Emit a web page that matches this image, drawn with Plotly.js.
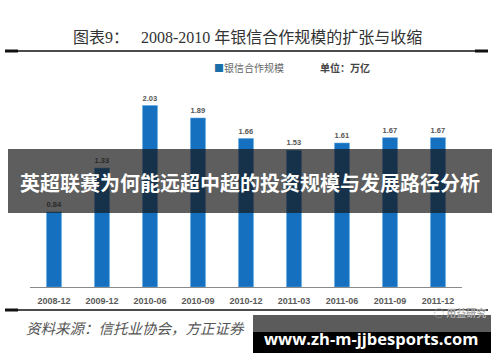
<!DOCTYPE html>
<html>
<head>
<meta charset="utf-8">
<script src="https://cdn.plot.ly/plotly-3.0.1.min.js"></script>
<style>html,body{margin:0;padding:0;background:#fff;}#chart{width:500px;height:362px;}</style>
</head>
<body>
<div id="chart"></div>
<script>
// ---- data ----
const categories = ["2008-12","2009-12","2010-06","2010-09","2010-12","2011-03","2011-06","2011-09","2011-12"];
const scaleValues = [0.84, 1.33, 2.03, 1.89, 1.66, 1.53, 1.61, 1.67, 1.67];
const seriesName = "银信合作规模";
const chartTitle = "图表9：&nbsp;&nbsp;&nbsp;2008-2010 年银信合作规模的扩张与收缩";
const unitLabel = "单位：万亿";
const sourceText = "资料来源：信托业协会，方正证券";
const bannerText = "英超联赛为何能远超中超的投资规模与发展路径分析";
const watermarkText = "www.zh-m-jjbesports.com";
const logoText = "用益研究";

// ---- helpers: pixel -> paper (margins are zero) ----
const W = 500, H = 362;
const px = x => x / W;
const py = y => 1 - y / H;

const CJK = "'Noto Sans CJK SC', 'Liberation Sans', sans-serif";

function note(x, y, text, font, xanchor) {
  return {xref: 'paper', yref: 'paper', x: px(x), y: py(y), text: text, showarrow: false,
          xanchor: xanchor || 'center', yanchor: 'middle', font: font};
}

const trace = {
  type: 'bar',
  x: categories,
  y: scaleValues,
  name: seriesName,
  marker: {color: '#1570bf', line: {color: '#5aa6e0', width: 0.6}},
  width: 0.31,
  text: scaleValues.map(v => v.toFixed(2)),
  textposition: 'outside',
  cliponaxis: false,
  textfont: {family: "'Liberation Sans', Arial, sans-serif", size: 8.5, color: '#555', weight: 'bold'},
  hoverinfo: 'skip'
};

const layout = {
  width: W, height: H,
  margin: {l: 0, r: 0, t: 0, b: 0},
  paper_bgcolor: '#fff', plot_bgcolor: '#fff',
  showlegend: false,
  xaxis: {
    domain: [px(30), px(462)],
    type: 'category',
    showline: true, linecolor: '#8a8a8a', linewidth: 1,
    showgrid: false, zeroline: false, ticks: '',
    ticklabelstandoff: 5,
    tickfont: {family: "'Liberation Sans', Arial, sans-serif", size: 9, color: '#5a5a5a', weight: 'bold'}
  },
  yaxis: {
    domain: [py(287), py(72.4)],
    range: [0, 2.4],
    visible: false, showgrid: false, zeroline: false
  },
  shapes: [
    // title rule
    {type: 'line', xref: 'paper', yref: 'paper', x0: px(5), x1: px(488), y0: py(51), y1: py(51), line: {color: '#111', width: 1.6}},
    {type: 'line', xref: 'paper', yref: 'paper', x0: px(5), x1: px(18), y0: py(51), y1: py(51), line: {color: '#111', width: 3}},
    {type: 'line', xref: 'paper', yref: 'paper', x0: px(475), x1: px(488), y0: py(51), y1: py(51), line: {color: '#111', width: 3}},
    // bottom rule
    {type: 'line', xref: 'paper', yref: 'paper', x0: px(5), x1: px(488), y0: py(310), y1: py(310), line: {color: '#111', width: 1.6}},
    {type: 'line', xref: 'paper', yref: 'paper', x0: px(5), x1: px(18), y0: py(310), y1: py(310), line: {color: '#111', width: 3}},
    // overlay banner
    {type: 'rect', layer: 'above', xref: 'paper', yref: 'paper', x0: px(8), x1: px(492), y0: py(213), y1: py(149),
     fillcolor: 'rgba(22,22,22,0.69)', line: {width: 0}},
    // watermark boxes
    {type: 'rect', layer: 'above', xref: 'paper', yref: 'paper', x0: px(253), x1: px(491), y0: py(332), y1: py(315),
     fillcolor: '#5b5b5b', line: {width: 0}},
    {type: 'rect', layer: 'above', xref: 'paper', yref: 'paper', x0: px(253), x1: px(491), y0: py(353), y1: py(332),
     fillcolor: '#000', line: {width: 0}}
  ],
  annotations: [
    note(247, 38, chartTitle, {family: "'Liberation Serif', 'Noto Sans CJK SC', serif", size: 16, color: '#333'}),
    note(212, 67, "<span style='color:#1a6fa8'>■</span>" + seriesName, {family: CJK, size: 10, color: '#666'}, 'left'),
    note(318, 67, unitLabel, {family: CJK, size: 10, color: '#444', weight: 'bold'}, 'left'),
    note(250, 182, bannerText, {family: CJK, size: 20, color: '#fff', weight: 'bold'}),
    note(24, 327, sourceText, {family: CJK, size: 14.5, color: '#555', style: 'italic'}, 'left'),
    note(460, 312, "◌ " + logoText, {family: CJK, size: 10, color: '#aaa', weight: 'bold'}),
    note(371, 338, watermarkText, {family: "'Open Sans', sans-serif", size: 16.5, color: '#fff', weight: 'bold'})
  ]
};

Plotly.newPlot('chart', [trace], layout, {displayModeBar: false, staticPlot: true});
</script>
</body>
</html>
